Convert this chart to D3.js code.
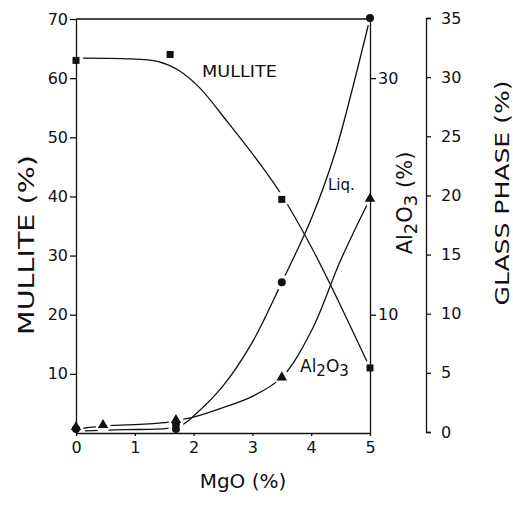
<!DOCTYPE html>
<html>
<head>
<meta charset="utf-8">
<script src="https://cdn.jsdelivr.net/npm/d3@7"></script>
<style>
  body { margin: 0; background: #fff; }
  svg text { font-family: "DejaVu Sans", sans-serif; fill: #111; }
</style>
</head>
<body>
<svg width="513" height="506"></svg>
<script>
// tick values
const mgoTicks = [0, 1, 2, 3, 4, 5];
const mulliteTicks = [10, 20, 30, 40, 50, 60, 70];
const al2o3Ticks = [10, 30];
const glassTicks = [0, 5, 10, 15, 20, 25, 30, 35];

// measured points (MgO %, value)
const mulliteMgO = [0, 1.6, 3.5, 5];
const mulliteVal = [63, 64, 39.5, 11];
const liqMgO = [0, 1.7, 1.7, 3.5, 5];
const liqVal = [0.25, 0.25, 0.67, 12.65, 35];
const al2o3MgO = [0, 0.46, 1.7, 3.5, 5];
const al2o3Val = [0.5, 0.67, 1.1, 4.7, 19.8];

// hand drawn trend lines
const mulliteFitX = [0.1, 0.8, 1.4, 1.75, 2.1, 2.6, 3.13, 3.5, 4.0, 4.35, 5];
const mulliteFitY = [63.4, 63.3, 62.8, 61.3, 58.4, 52.3, 45.5, 40.2, 31.5, 24.6, 11];
const liqFitX = [0.15, 0.8, 1.55, 1.82, 2.0, 2.5, 3.0, 3.5, 4.0, 4.4, 4.7, 5];
const liqFitY = [0.1, 0.2, 0.3, 0.65, 1.35, 3.9, 7.6, 12.65, 18, 23.5, 29, 35];
const al2o3FitX = [0.12, 0.5, 1.45, 1.85, 2.0, 2.5, 3.0, 3.5, 4.0, 4.5, 5];
const al2o3FitY = [0.4, 0.6, 0.85, 1.2, 1.35, 2.15, 3.1, 4.7, 8.6, 14.6, 19.8];

const svg = d3.select('svg');

const x = d3.scaleLinear().domain([0, 5]).range([76, 370]);
const yM = d3.scaleLinear().domain([0, 70]).range([433, 19]);
const yA = d3.scaleLinear().domain([0, 35]).range([433, 19]);  // Al2O3 axis
const yG = d3.scaleLinear().domain([0, 35]).range([432, 18]);  // glass phase axis

// markers, each with the scale it belongs to
const markers = [];
mulliteMgO.forEach((m, i) => markers.push({ type: 'square', cx: x(m), cy: yM(mulliteVal[i]) }));
liqMgO.forEach((m, i) => markers.push({ type: 'circle', cx: x(m), cy: yG(liqVal[i]) }));
al2o3MgO.forEach((m, i) => markers.push({ type: 'triangle', cx: x(m), cy: yA(al2o3Val[i]) }));

// mask leaves a small gap in the lines round every marker
const mask = svg.append('defs').append('mask').attr('id', 'gaps');
mask.append('rect').attr('width', 513).attr('height', 506).attr('fill', '#fff');
mask.selectAll('circle').data(markers).enter().append('circle')
  .attr('cx', d => d.cx).attr('cy', d => d.cy).attr('r', 7.5).attr('fill', '#000');

// axes
const styleAxis = g => {
  g.selectAll('path, line').attr('stroke', '#111').attr('stroke-width', 1.3);
  g.selectAll('text').attr('fill', '#111').style('font-size', '16px');
};

svg.append('g').attr('transform', 'translate(76,0)')
  .call(d3.axisLeft(yM).tickValues(mulliteTicks).tickSize(6).tickSizeOuter(0).tickPadding(2))
  .call(styleAxis);

svg.append('g').attr('transform', 'translate(0,433)')
  .call(d3.axisBottom(x).tickValues(mgoTicks).tickFormat(d3.format('d'))
    .tickSize(3).tickSizeOuter(0).tickPadding(6))
  .call(styleAxis);

svg.append('g').attr('transform', 'translate(370,0)')
  .call(d3.axisRight(yA).tickValues(al2o3Ticks).tickSize(6).tickSizeOuter(0).tickPadding(2))
  .call(styleAxis);

svg.append('g').attr('transform', 'translate(426,0)')
  .call(d3.axisRight(yG).tickValues(glassTicks).tickSize(5).tickSizeOuter(5).tickPadding(10))
  .call(styleAxis);

// top frame line
svg.append('line')
  .attr('x1', x(0)).attr('x2', x(5)).attr('y1', yM(70)).attr('y2', yM(70))
  .attr('stroke', '#111').attr('stroke-width', 1.3);

// trend lines
const curves = svg.append('g').attr('mask', 'url(#gaps)')
  .attr('fill', 'none').attr('stroke', '#111').attr('stroke-width', 1.3);

const line = (xs, ys, yScale) => d3.line()
  .x((d, i) => x(xs[i]))
  .y(d => yScale(d))
  .curve(d3.curveCatmullRom.alpha(0.5))(ys);

curves.append('path').attr('d', line(mulliteFitX, mulliteFitY, yM));
curves.append('path').attr('d', line(liqFitX, liqFitY, yG));
curves.append('path').attr('d', line(al2o3FitX, al2o3FitY, yA));

// markers
const tri = d3.symbol().type(d3.symbolTriangle).size(48);
const marks = svg.append('g').attr('fill', '#111');
markers.forEach(d => {
  if (d.type === 'square') {
    marks.append('rect').attr('x', d.cx - 3.5).attr('y', d.cy - 3.5).attr('width', 7).attr('height', 7);
  } else if (d.type === 'circle') {
    marks.append('circle').attr('cx', d.cx).attr('cy', d.cy).attr('r', 4);
  } else {
    marks.append('path').attr('d', tri).attr('transform', `translate(${d.cx},${d.cy})`);
  }
});

// curve labels
svg.append('text').attr('x', 202).attr('y', 77).style('font-size', '15px')
  .attr('textLength', 75).attr('lengthAdjust', 'spacingAndGlyphs').text('MULLITE');
svg.append('text').attr('x', 328).attr('y', 190).style('font-size', '15px').text('Liq.');
const al = svg.append('text').attr('x', 300).attr('y', 372).style('font-size', '17px');
al.append('tspan').text('Al');
al.append('tspan').attr('dy', 4).style('font-size', '15px').text('2');
al.append('tspan').attr('dy', -4).text('O');
al.append('tspan').attr('dy', 4).style('font-size', '15px').text('3');

// axis titles
svg.append('text').attr('text-anchor', 'middle')
  .attr('transform', 'translate(34,245) rotate(-90)')
  .style('font-size', '21px').attr('textLength', 180).attr('lengthAdjust', 'spacingAndGlyphs')
  .text('MULLITE (%)');

svg.append('text').attr('text-anchor', 'middle')
  .attr('x', 243).attr('y', 488)
  .style('font-size', '20px').text('MgO (%)');

const alTitle = svg.append('text').attr('text-anchor', 'middle')
  .attr('transform', 'translate(412,203) rotate(-90)').style('font-size', '21px');
alTitle.append('tspan').text('Al');
alTitle.append('tspan').attr('dy', 5).style('font-size', '18px').text('2');
alTitle.append('tspan').attr('dy', -5).text('O');
alTitle.append('tspan').attr('dy', 5).style('font-size', '18px').text('3');
alTitle.append('tspan').attr('dy', -5).text(' (%)');

svg.append('text').attr('text-anchor', 'middle')
  .attr('transform', 'translate(509,193) rotate(-90)')
  .style('font-size', '20px').attr('textLength', 225).attr('lengthAdjust', 'spacingAndGlyphs')
  .text('GLASS PHASE (%)');
</script>
</body>
</html>
